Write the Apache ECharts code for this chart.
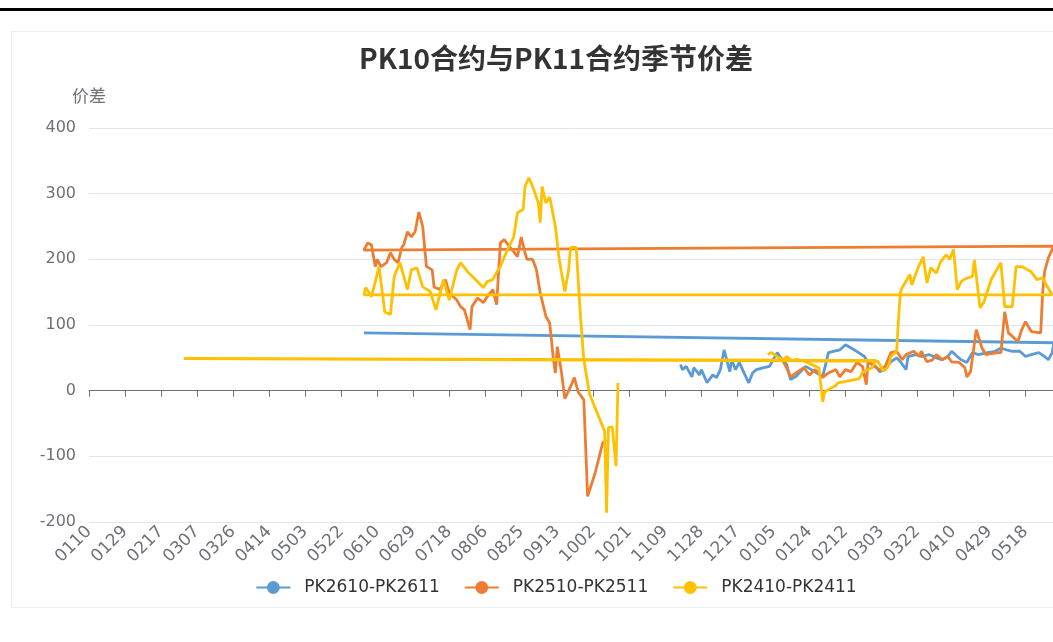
<!DOCTYPE html>
<html>
<head>
<meta charset="utf-8">
<title>PK10合约与PK11合约季节价差</title>
<script src="https://cdn.jsdelivr.net/npm/echarts@6.0.0/dist/echarts.min.js"></script>
<style>
  html, body { margin: 0; padding: 0; width: 1053px; height: 642px; overflow: hidden; background: #fff; }
  .top-rule { position: absolute; left: 0; top: 8px; width: 1053px; height: 3px; background: #000; }
  .frame { position: absolute; left: 11px; top: 31px; width: 1200px; height: 575px; border: 1px solid #ececec; }
  #chart { position: absolute; left: 12px; top: 32px; width: 1088px; height: 574px; }
</style>
</head>
<body>
<div class="top-rule"></div>
<div class="frame"></div>
<div id="chart"></div>
<script>
// x 轴：按日历逐日的 MMDD 类目（跨年，重复的 MMDD 归到后一次出现的位置）
const axisStart = "2024-01-10";
const axisEnd = "2025-06-02";

const seriesNames = ["PK2610-PK2611", "PK2510-PK2511", "PK2410-PK2411"];
const seriesColors = ["#5B9BD5", "#ED7D31", "#FFC000"];

// PK2610-PK2611
const pk2610Dates = [
  "1117","1118","1120","1123","1124","1127","1128",
  "1201","1204","1206","1208","1210","1212","1213","1214","1216","1218","1221","1223","1225","1227","1231",
  "0103","0104","0107","0109","0112","0114","0117","0119","0122","0125","0131",
  "0203","0209","0212","0215","0219","0222","0224","0228",
  "0302","0305","0308","0311","0313","0316","0317","0321","0324","0328",
  "0401","0404","0407","0409","0412","0414","0417","0420","0423","0428",
  "0502","0505","0508","0511","0515","0518","0521","0525","0528","0530",
  "0601","0602","0603"
];
const pk2610Values = [
  40, 32, 37, 21, 35, 24, 32,
  12, 24, 20, 32, 62, 40, 29, 47, 32, 43, 24, 12, 27, 32, 35,
  37, 43, 58, 50, 40, 17, 22, 28, 37, 32, 21,
  58, 62, 70, 65, 58, 52, 43, 37,
  29, 32, 44, 50, 44, 32, 52, 55, 52, 55,
  50, 47, 52, 60, 52, 47, 43, 58, 55, 58,
  60, 65, 62, 60, 60, 52, 55, 58, 52, 47,
  58, 73, 88
];

// PK2510-PK2511
const pk2510Dates = [
  "0110","0112","0114","0117","0121","0124","0127","0131",
  "0203","0207","0209","0212","0215","0218","0221","0223","0224","0227",
  "0302","0305","0308","0311","0314","0316","0320","0323","0324","0327","0330",
  "0401","0404","0407","0409","0413","0416","0417","0419","0422","0425","0427",
  "0503","0505","0507","0509","0514","0516","0518","0521","0526","0527","0528","0530",
  "0601","0602",
  "0603","0605","0607","0609","0610","0612","0615","0617","0619","0621","0623","0624","0626","0628","0630",
  "0702","0704","0706","0709","0710","0713","0716","0718","0722","0724","0726","0729","0730",
  "0802","0805","0807","0810","0812","0814","0816","0820","0823","0825","0827","0828","0831",
  "0902","0904","0907","0909","0911","0912","0913","0915","0917","0920","0922","0924","0927","0929",
  "1003","1007","1009"
];
const pk2510Values = [
  45, 35, 21, 27, 35, 24, 32, 20,
  27, 32, 21, 32, 29, 43, 37, 9, 47, 37,
  32, 37, 58, 60, 47, 55, 60, 52, 60, 44, 47,
  55, 47, 52, 44, 43, 35, 21, 29, 93, 65, 55,
  58, 58, 120, 88, 75, 93, 105, 90, 88, 149, 181, 202,
  215, 220,
  214, 225, 222, 189, 200, 189, 195, 210, 200, 195, 218, 222, 242, 234, 242,
  272, 250, 189, 184, 158, 154, 169, 149, 138, 128, 123, 93, 128,
  141, 134, 143, 154, 131, 225, 230, 215, 204, 234, 210, 200, 200,
  184, 149, 113, 103, 47, 27, 67, 32, -12, 6, 20, -2, -14, -161,
  -125, -79, -75
];

// PK2410-PK2411
const pk2410Dates = [
  "0102","0104","0108","0110","0112","0115","0117","0122","0125","0129","0130","0131",
  "0201","0205","0207","0208","0219","0220","0221","0222","0226","0227","0228","0229",
  "0301","0304","0305","0306","0307","0308","0311","0312","0313","0314","0315","0318","0319","0322","0325","0327","0329",
  "0401","0403","0406","0408","0410","0412","0414","0416","0420","0421","0424","0426","0430",
  "0505","0507","0511","0513","0516","0521","0524","0527","0529",
  "0601","0602",
  "0603","0604","0607","0611","0614","0617","0619","0622","0626","0628",
  "0701","0704","0708","0711","0715","0718","0722","0724","0728",
  "0801","0805","0807","0810","0812","0814","0817","0821","0823","0826","0827","0829","0831",
  "0903","0904","0905","0907","0909","0912","0914","0917","0919","0920","0923","0925","0927","0930",
  "1008","1009","1010","1012","1014","1015"
];
const pk2410Values = [
  55, 58, 50, 47, 52, 45, 48, 44, 40, 35, 10, -17,
  -2, 5, 8, 12, 18, 22, 28, 25, 35, 40, 46, 49,
  45, 30, 28, 35, 40, 52, 60, 110, 150, 157, 155, 177, 161, 185, 204, 164, 187,
  179, 195, 207, 200, 215, 154, 166, 170, 174, 199, 126, 135, 170,
  195, 128, 128, 189, 189, 181, 169, 172, 161,
  146, 148,
  146, 157, 143, 189, 120, 116, 174, 195, 154, 184,
  187, 158, 151, 123, 169, 138, 184, 195, 180,
  169, 157, 166, 169, 180, 189, 210, 234, 271, 276, 311, 324, 311,
  286, 256, 311, 286, 295, 250, 200, 151, 184, 218, 218, 123, 47, -5,
  -62, -186, -56, -55, -115, 12
];

function buildDays(start, end) {
  const out = [];
  const d = new Date(start + "T00:00:00Z");
  const stop = new Date(end + "T00:00:00Z");
  while (d <= stop) {
    const mm = String(d.getUTCMonth() + 1).padStart(2, "0");
    const dd = String(d.getUTCDate()).padStart(2, "0");
    out.push(mm + dd);
    d.setUTCDate(d.getUTCDate() + 1);
  }
  return out;
}

const days = buildDays(axisStart, axisEnd);
const pairs = (dates, values) => dates.map((d, i) => [d, values[i]]);
const seriesData = [
  pairs(pk2610Dates, pk2610Values),
  pairs(pk2510Dates, pk2510Values),
  pairs(pk2410Dates, pk2410Values),
];

const font = "'DejaVu Sans', 'Noto Sans CJK SC', sans-serif";
const chart = echarts.init(document.getElementById("chart"));

const option = {
  animation: false,
  textStyle: { fontFamily: font },
  title: {
    text: "PK10合约与PK11合约季节价差",
    left: "center",
    top: 7,
    textStyle: {
      fontFamily: "'Noto Sans CJK SC', sans-serif",
      fontSize: 28,
      fontWeight: "bold",
      color: "#333",
    },
  },
  legend: {
    data: seriesNames,
    left: "center",
    top: 542,
    itemWidth: 34,
    itemHeight: 16,
    itemGap: 24,
    textStyle: { fontFamily: font, fontSize: 17, color: "#333", padding: [0, 0, 0, 9] },
  },
  grid: { left: 77, right: 46, top: 96, bottom: 84 },
  xAxis: [
    {
      // 零线 + 刻度
      type: "category",
      data: days,
      boundaryGap: false,
      axisLine: { onZero: true, lineStyle: { color: "#6E7079" } },
      axisTick: { interval: 18, length: 6, lineStyle: { color: "#6E7079" } },
      axisLabel: { show: false },
    },
    {
      // 底部日期标签
      type: "category",
      data: days,
      position: "bottom",
      boundaryGap: false,
      axisLine: { show: false, onZero: false },
      axisTick: { show: false },
      axisLabel: {
        interval: 18,
        rotate: 45,
        margin: 7,
        color: "#6E7079",
        fontSize: 17,
        fontFamily: font,
      },
    },
  ],
  yAxis: {
    type: "value",
    min: -200,
    max: 400,
    interval: 100,
    name: "价差",
    nameGap: 22,
    nameTextStyle: { color: "#6E7079", fontSize: 17, fontFamily: font },
    axisLine: { show: false },
    axisTick: { show: false },
    axisLabel: { color: "#6E7079", fontSize: 16, margin: 13, fontFamily: font },
    splitLine: { lineStyle: { color: "#E0E6F1" } },
  },
  series: seriesNames.map((name, i) => ({
    name,
    type: "line",
    data: seriesData[i],
    symbol: "circle",
    symbolSize: 9,
    showSymbol: false,
    color: seriesColors[i],
    lineStyle: { width: 2.8, color: seriesColors[i] },
  })),
};

chart.setOption(option);
</script>
</body>
</html>
